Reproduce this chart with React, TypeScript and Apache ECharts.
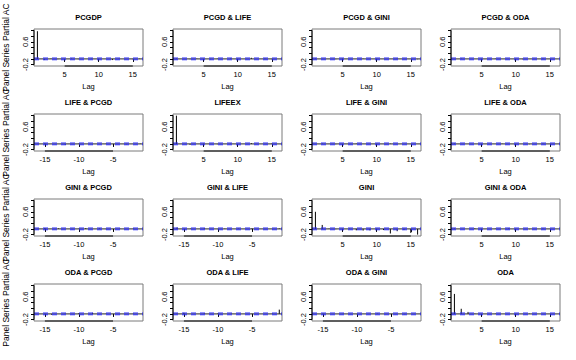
import React, { useEffect, useRef } from "react";
import * as echarts from "echarts";

const posLags = [1, 2, 3, 4, 5, 6, 7, 8, 9, 10, 11, 12, 13, 14, 15, 16];
const negLags = [-16, -15, -14, -13, -12, -11, -10, -9, -8, -7, -6, -5, -4, -3, -2, -1];

const titles = [
  "PCGDP", "PCGD & LIFE", "PCGD & GINI", "PCGD & ODA",
  "LIFE & PCGD", "LIFEEX", "LIFE & GINI", "LIFE & ODA",
  "GINI & PCGD", "GINI & LIFE", "GINI", "GINI & ODA",
  "ODA & PCGD", "ODA & LIFE", "ODA & GINI", "ODA",
];
const negative = [
  false, false, false, false,
  true, false, false, false,
  true, true, false, false,
  true, true, true, false,
];

const pcgdp = [0.97, -0.04, 0.01, -0.01, 0.0, 0.01, -0.01, 0.0, 0.01, -0.01, 0.0, -0.04, 0.01, 0.0, -0.01, 0.01];
const pcgdLife = [0.01, 0.0, -0.01, 0.01, 0.0, -0.01, 0.01, 0.0, 0.02, -0.01, 0.0, 0.04, 0.0, 0.01, -0.01, 0.0];
const pcgdGini = [0.01, 0.0, 0.0, -0.01, 0.01, 0.0, 0.0, 0.01, 0.0, -0.01, 0.0, 0.0, 0.01, 0.0, 0.0, -0.01];
const pcgdOda = [0.0, 0.01, 0.0, 0.0, -0.01, 0.0, 0.01, 0.0, 0.0, 0.0, -0.01, 0.0, 0.0, 0.01, 0.0, 0.0];
const lifePcgd = [0.01, 0.02, 0.0, 0.0, -0.03, 0.0, 0.01, 0.0, -0.01, 0.0, 0.01, 0.0, 0.0, -0.01, 0.0, 0.01];
const lifeex = [0.99, 0.0, -0.03, 0.0, 0.01, 0.0, -0.01, 0.0, 0.01, 0.0, 0.0, 0.03, 0.0, 0.0, 0.01, 0.0];
const lifeGini = [0.0, 0.01, 0.0, -0.01, 0.0, 0.0, 0.01, 0.0, 0.0, -0.01, 0.0, 0.01, 0.0, 0.0, 0.0, 0.0];
const lifeOda = [0.01, 0.0, 0.0, 0.0, -0.01, 0.0, 0.0, 0.01, 0.0, 0.0, 0.0, -0.01, 0.0, 0.01, 0.0, 0.0];
const giniPcgd = [0.01, 0.03, 0.0, 0.02, 0.0, -0.01, 0.01, 0.03, 0.0, 0.02, -0.01, 0.0, 0.01, 0.0, 0.01, 0.0];
const giniLife = [0.05, 0.0, 0.01, 0.0, 0.02, 0.0, -0.01, 0.01, 0.0, 0.01, 0.0, 0.02, 0.0, 0.0, -0.01, 0.02];
const gini = [0.6, 0.14, 0.01, -0.01, -0.02, 0.01, -0.05, -0.06, -0.05, -0.02, -0.04, -0.16, -0.08, -0.04, -0.14, -0.2];
const giniOda = [0.01, 0.0, 0.0, 0.02, -0.01, 0.0, 0.01, 0.0, 0.02, 0.0, 0.0, -0.01, 0.0, 0.01, 0.0, 0.0];
const odaPcgd = [0.0, 0.01, -0.03, 0.0, 0.01, 0.0, 0.03, 0.0, 0.04, 0.0, 0.01, 0.0, -0.01, 0.0, 0.01, 0.0];
const odaLife = [0.01, 0.04, 0.0, 0.0, 0.02, 0.0, 0.02, 0.0, 0.01, 0.0, 0.0, 0.01, 0.0, 0.0, 0.01, 0.15];
const odaGini = [0.0, 0.01, 0.0, 0.0, 0.01, 0.0, -0.01, 0.0, 0.0, 0.01, 0.0, 0.0, 0.0, -0.01, 0.0, 0.0];
const oda = [0.7, 0.18, 0.07, 0.01, 0.0, 0.0, 0.01, 0.0, 0.0, -0.01, 0.0, 0.01, 0.0, 0.0, 0.0, 0.0];

const panels = [
  pcgdp, pcgdLife, pcgdGini, pcgdOda,
  lifePcgd, lifeex, lifeGini, lifeOda,
  giniPcgd, giniLife, gini, giniOda,
  odaPcgd, odaLife, odaGini, oda,
];

const confLimit = 0.03;
const yTicks = [-0.2, 0, 0.2, 0.4, 0.6, 0.8, 1.0];
const yLabels = [-0.2, 0.6];
const posTicks = [5, 10, 15];
const negTicks = [-15, -10, -5];
const yAxisTitle = "Panel Series Partial AC";
const xAxisTitle = "Lag";

const FONT = '"Liberation Sans", Arial, Helvetica, sans-serif';

export default function App() {
  const ref = useRef<HTMLDivElement>(null);
  useEffect(() => {
    document.body.style.margin = "0";
    const chart = echarts.init(ref.current!, null, { renderer: "svg" });
    const lefts = [34, 173, 312, 451];
    const tops = [29, 114, 199, 284];
    const gw = 109;
    const gh = 37;
    const yMin = -0.248;
    const yMax = 1.048;

    const grids: any[] = [];
    const xAxes: any[] = [];
    const yAxes: any[] = [];
    const series: any[] = [];
    const graphics: any[] = [];

    panels.forEach((vals, i) => {
      const r = Math.floor(i / 4);
      const c = i % 4;
      const neg = negative[i];
      const lags = neg ? negLags : posLags;
      const xMin = neg ? -16.6 : 0.5;
      const xMax = neg ? -0.6 : 16.5;
      const ticks = neg ? negTicks : posTicks;
      grids.push({
        left: lefts[c],
        top: tops[r],
        width: gw,
        height: gh,
        show: true,
        borderColor: "#7a7a7a",
        borderWidth: 1,
        backgroundColor: "transparent",
      });
      xAxes.push({
        type: "value",
        gridIndex: i,
        min: xMin,
        max: xMax,
        axisLine: { show: false },
        splitLine: { show: false },
        axisTick: { show: true, length: 3, customValues: ticks, lineStyle: { color: "#000" } },
        axisLabel: {
          customValues: ticks,
          fontSize: 7.5,
          fontFamily: FONT,
          color: "#000",
          margin: 4,
          formatter: (v: number) => String(v),
        },
        name: xAxisTitle,
        nameLocation: "middle",
        nameGap: 16,
        nameTextStyle: { fontSize: 7.5, fontFamily: FONT, color: "#000" },
      });
      yAxes.push({
        type: "value",
        gridIndex: i,
        min: yMin,
        max: yMax,
        axisLine: { show: false },
        splitLine: { show: false },
        axisTick: { show: true, length: 3, customValues: yTicks, lineStyle: { color: "#000" } },
        axisLabel: {
          customValues: yLabels,
          rotate: 90,
          fontSize: 7.5,
          fontFamily: FONT,
          color: "#000",
          margin: 5,
          formatter: (v: number) => v.toFixed(1),
        },
      });
      series.push({
        type: "custom",
        xAxisIndex: i,
        yAxisIndex: i,
        data: lags.map((l, k) => [l, vals[k]]),
        encode: { x: 0, y: 1 },
        renderItem: (_p: any, api: any) => {
          const x = api.value(0);
          const y = api.value(1);
          const p0 = api.coord([x, 0]);
          const p1 = api.coord([x, y]);
          return {
            type: "line",
            shape: { x1: p0[0], y1: p0[1], x2: p1[0], y2: p1[1] },
            style: { stroke: "#000", lineWidth: 1 },
          };
        },
        silent: true,
      });
      series.push({
        type: "line",
        xAxisIndex: i,
        yAxisIndex: i,
        data: [[xMin, 0], [xMax, 0]],
        symbol: "none",
        lineStyle: { color: "#222", width: 1 },
        silent: true,
      });
      [confLimit, -confLimit].forEach((cl) => {
        series.push({
          type: "line",
          xAxisIndex: i,
          yAxisIndex: i,
          data: [[xMin, cl], [xMax, cl]],
          symbol: "none",
          lineStyle: { color: "#2a2aff", width: 1.1, type: [5, 4] },
          silent: true,
        });
      });
      series.push({
        type: "line",
        xAxisIndex: i,
        yAxisIndex: i,
        data: [[ticks[0], yMin], [ticks[ticks.length - 1], yMin]],
        symbol: "none",
        clip: false,
        lineStyle: { color: "#000", width: 1 },
        silent: true,
      });
      series.push({
        type: "line",
        xAxisIndex: i,
        yAxisIndex: i,
        data: [[xMin, yTicks[0]], [xMin, yTicks[yTicks.length - 1]]],
        symbol: "none",
        clip: false,
        lineStyle: { color: "#000", width: 1 },
        silent: true,
      });
      graphics.push({
        type: "text",
        x: lefts[c] + gw / 2,
        y: tops[r] - 12,
        silent: true,
        style: {
          text: titles[i],
          font: `bold 7.5px ${FONT}`,
          textAlign: "center",
          textVerticalAlign: "middle",
          fill: "#000",
        },
      });
      if (c === 0) {
        graphics.push({
          type: "text",
          x: 6,
          y: tops[r] + gh / 2,
          rotation: Math.PI / 2,
          silent: true,
          style: {
            text: yAxisTitle,
            font: `8.5px ${FONT}`,
            textAlign: "center",
            textVerticalAlign: "middle",
            fill: "#000",
          },
        });
      }
    });

    chart.setOption({
      animation: false,
      backgroundColor: "#fff",
      grid: grids,
      xAxis: xAxes,
      yAxis: yAxes,
      series,
      graphic: graphics,
    });
    return () => chart.dispose();
  }, []);
  return <div ref={ref} style={{ width: 576, height: 360 }} />;
}
